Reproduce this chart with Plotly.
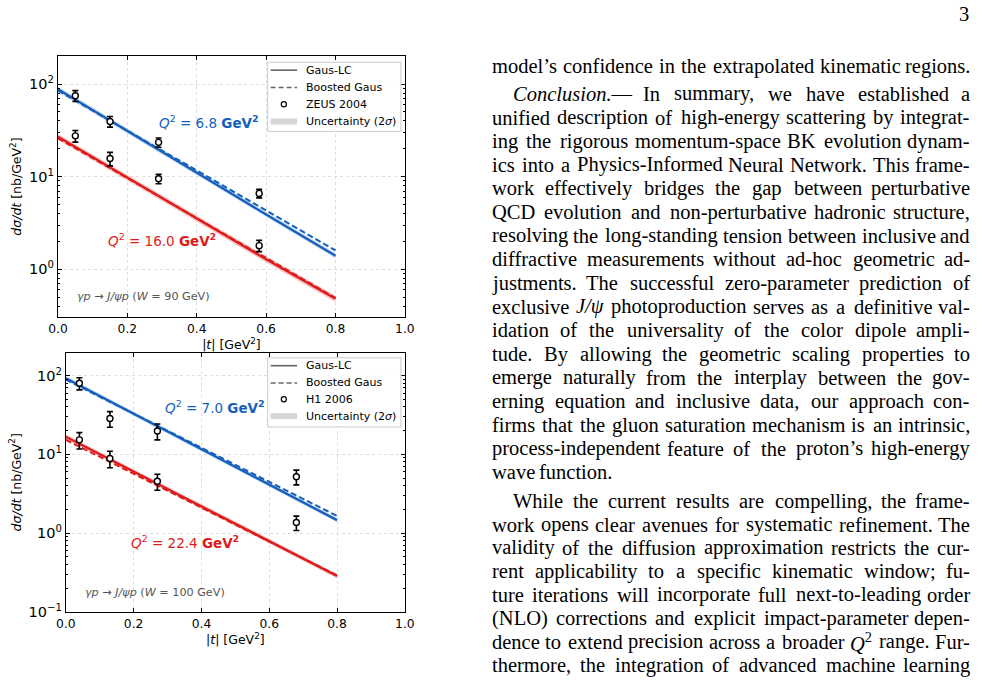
import re
import plotly.graph_objects as go

W, H = 988, 686

# ---------------- data ----------------
t_curve = [0.0, 0.2, 0.4, 0.6, 0.8]

# Top panel: W = 90 GeV, ZEUS 2004
top_blue_lc = [88, 31.0, 11.0, 3.9, 1.40]
top_blue_bg = [85, 31.5, 11.7, 4.3, 1.60]
top_blue_lo = [82, 29.0, 10.3, 3.65, 1.31]
top_blue_hi = [94, 33.0, 11.7, 4.15, 1.50]
top_red_lc = [27, 9.8, 3.5, 1.28, 0.48]
top_red_bg = [26, 9.6, 3.55, 1.32, 0.49]
top_red_lo = [25, 9.1, 3.25, 1.18, 0.44]
top_red_hi = [29, 10.5, 3.75, 1.38, 0.52]

zeus_t = [0.05, 0.15, 0.29, 0.58]
zeus_blue = [75, 39.5, 23.5, 6.6]
zeus_blue_err = [10, 5.2, 2.7, 0.7]
zeus_red = [27.6, 15.7, 9.5, 1.8]
zeus_red_err = [4.0, 2.6, 1.1, 0.25]

# Bottom panel: W = 100 GeV, H1 2006
bot_blue_lc = [93, 33.0, 11.7, 4.14, 1.46]
bot_blue_bg = [89, 32.8, 12.1, 4.45, 1.65]
bot_blue_lo = [87, 30.9, 10.95, 3.88, 1.37]
bot_blue_hi = [99, 35.2, 12.5, 4.42, 1.56]
bot_red_lc = [16.7, 6.05, 2.2, 0.79, 0.285]
bot_red_bg = [15.3, 5.7, 2.12, 0.78, 0.29]
bot_red_lo = [15.6, 5.65, 2.05, 0.74, 0.265]
bot_red_hi = [17.9, 6.5, 2.36, 0.85, 0.305]

h1_t = [0.04, 0.13, 0.27, 0.68]
h1_blue = [80, 28.5, 19.8, 5.2]
h1_blue_err = [14, 6.4, 4.5, 1.1]
h1_red = [15.3, 8.85, 4.55, 1.36]
h1_red_err = [3.6, 2.1, 1.05, 0.28]

x_ticks = [0.0, 0.2, 0.4, 0.6, 0.8, 1.0]
top_y_tickvals = [1, 10, 100]
top_y_ticktext = ["10<sup>0</sup>", "10<sup>1</sup>", "10<sup>2</sup>"]
bot_y_tickvals = [0.1, 1, 10, 100]
bot_y_ticktext = ["10<sup>−1</sup>", "10<sup>0</sup>", "10<sup>1</sup>", "10<sup>2</sup>"]

legend_labels_top = ["Gaus-LC", "Boosted Gaus", "ZEUS 2004", "Uncertainty (2<i>σ</i>)"]
legend_labels_bot = ["Gaus-LC", "Boosted Gaus", "H1 2006", "Uncertainty (2<i>σ</i>)"]

page_number = "3"
text_lines = [
    ("model’s confidence in the extrapolated kinematic regions.", 0, True),
    ("<i>Conclusion.</i>— In summary, we have established a", 1, True),
    ("unified description of high-energy scattering by integrat-", 0, True),
    ("ing the rigorous momentum-space BK evolution dynam-", 0, True),
    ("ics into a Physics-Informed Neural Network. This frame-", 0, True),
    ("work effectively bridges the gap between perturbative", 0, True),
    ("QCD evolution and non-perturbative hadronic structure,", 0, True),
    ("resolving the long-standing tension between inclusive and", 0, True),
    ("diffractive measurements without ad-hoc geometric ad-", 0, True),
    ("justments. The successful zero-parameter prediction of", 0, True),
    ("exclusive <i>J/ψ</i> photoproduction serves as a definitive val-", 0, True),
    ("idation of the universality of the color dipole ampli-", 0, True),
    ("tude. By allowing the geometric scaling properties to", 0, True),
    ("emerge naturally from the interplay between the gov-", 0, True),
    ("erning equation and inclusive data, our approach con-", 0, True),
    ("firms that the gluon saturation mechanism is an intrinsic,", 0, True),
    ("process-independent feature of the proton’s high-energy", 0, True),
    ("wave function.", 0, False),
    ("While the current results are compelling, the frame-", 1, True),
    ("work opens clear avenues for systematic refinement. The", 0, True),
    ("validity of the diffusion approximation restricts the cur-", 0, True),
    ("rent applicability to a specific kinematic window; fu-", 0, True),
    ("ture iterations will incorporate full next-to-leading order", 0, True),
    ("(NLO) corrections and explicit impact-parameter depen-", 0, True),
    ("dence to extend precision across a broader <i>Q</i><sup>2</sup> range. Fur-", 0, True),
    ("thermore, the integration of advanced machine learning", 0, True),
]
text_y = [67] + [95 + 23.93 * i for i in range(17)] + [507 + 23.7 * i for i in range(8)]

# ---------------- styles ----------------
BLUE = "#1560bd"
RED = "#dd1c1c"
BLUE_BAND = "rgba(21,96,189,0.22)"
RED_BAND = "rgba(221,28,28,0.24)"

fig = go.Figure()

panels = [
    dict(xa="x", ya="y",
         blue=(top_blue_lc, top_blue_bg, top_blue_lo, top_blue_hi),
         red=(top_red_lc, top_red_bg, top_red_lo, top_red_hi),
         dt=zeus_t, db=(zeus_blue, zeus_blue_err), dr=(zeus_red, zeus_red_err)),
    dict(xa="x2", ya="y2",
         blue=(bot_blue_lc, bot_blue_bg, bot_blue_lo, bot_blue_hi),
         red=(bot_red_lc, bot_red_bg, bot_red_lo, bot_red_hi),
         dt=h1_t, db=(h1_blue, h1_blue_err), dr=(h1_red, h1_red_err)),
]

for p in panels:
    xa, ya = p["xa"], p["ya"]
    for (lc, bg, lo, hi), col, band in [(p["blue"], BLUE, BLUE_BAND), (p["red"], RED, RED_BAND)]:
        fig.add_trace(go.Scatter(x=t_curve, y=lo, mode="lines", line=dict(width=0),
                                 showlegend=False, hoverinfo="skip", xaxis=xa, yaxis=ya))
        fig.add_trace(go.Scatter(x=t_curve, y=hi, mode="lines", line=dict(width=0),
                                 fill="tonexty", fillcolor=band,
                                 showlegend=False, hoverinfo="skip", xaxis=xa, yaxis=ya))
        fig.add_trace(go.Scatter(x=t_curve, y=lc, mode="lines", line=dict(color=col, width=2.3),
                                 showlegend=False, xaxis=xa, yaxis=ya))
        fig.add_trace(go.Scatter(x=t_curve, y=bg, mode="lines",
                                 line=dict(color=col, width=2.0, dash="6px,3px"),
                                 showlegend=False, xaxis=xa, yaxis=ya))
    for vals, errs in [p["db"], p["dr"]]:
        fig.add_trace(go.Scatter(x=p["dt"], y=vals, mode="markers",
                                 error_y=dict(type="data", array=errs, color="black",
                                              thickness=1.6, width=3),
                                 marker=dict(symbol="circle", size=6, color="white",
                                             line=dict(color="black", width=1.4)),
                                 showlegend=False, xaxis=xa, yaxis=ya))

# ---------------- axes ----------------
def px_x(v):
    return v / W

def px_y(v):
    return 1 - v / H

axis_common = dict(showline=True, mirror="ticks", linecolor="black", linewidth=1.2,
                   ticks="inside", ticklen=4, tickcolor="black", tickwidth=1,
                   showgrid=True, gridcolor="#dedede", griddash="dot", gridwidth=0.8,
                   zeroline=False)

xcommon = dict(axis_common, range=[0, 1.0], tickvals=x_ticks, tickformat=".1f",
               tickfont=dict(family="DejaVu Sans", size=12.3, color="black"),
               title=dict(text="|<i>t</i>| [GeV<sup>2</sup>]",
                          font=dict(family="DejaVu Sans", size=12.5, color="black"),
                          standoff=4))
ycommon = dict(axis_common, type="log",
               tickfont=dict(family="DejaVu Sans", size=14.5, color="black"),
               minor=dict(ticks="inside", ticklen=2, tickcolor="black", showgrid=False,
                          dtick="D1"),
               title=dict(text="<i>dσ/dt</i> [nb/GeV<sup>2</sup>]",
                          font=dict(family="DejaVu Sans", size=12.5, color="black"),
                          standoff=4))

fig.update_layout(
    xaxis=dict(xcommon, domain=[px_x(49), px_x(403)], anchor="y"),
    yaxis=dict(ycommon, domain=[px_y(320.5), px_y(57)], anchor="x", range=[-0.513, 2.30],
               tickvals=top_y_tickvals, ticktext=top_y_ticktext),
    xaxis2=dict(xcommon, domain=[px_x(57), px_x(403)], anchor="y2"),
    yaxis2=dict(ycommon, domain=[px_y(619), px_y(357)], anchor="x2", range=[-1.0, 2.29],
                tickvals=bot_y_tickvals, ticktext=bot_y_ticktext),
    showlegend=False,
)

# ---------------- panel annotations ----------------
ann = []
shapes = []

def add_label(text, x, y, color, size, xanchor="center", family="DejaVu Sans"):
    ann.append(dict(text=text, x=px_x(x), y=px_y(y), xref="paper", yref="paper",
                    xanchor=xanchor, yanchor="middle", showarrow=False,
                    font=dict(family=family, size=size, color=color)))

add_label("<i>Q</i><sup>2</sup> = 6.8 <b>GeV<sup>2</sup></b>", 203, 123, BLUE, 13.5)
add_label("<i>Q</i><sup>2</sup> = 16.0 <b>GeV<sup>2</sup></b>", 155.5, 243, RED, 13.5)
add_label("<i>γp</i> → <i>J/ψp</i> (<i>W</i> = 90 GeV)", 66, 300, "#555555", 11.2, "left")
add_label("<i>Q</i><sup>2</sup> = 7.0 <b>GeV<sup>2</sup></b>", 209, 412, BLUE, 13.5)
add_label("<i>Q</i><sup>2</sup> = 22.4 <b>GeV<sup>2</sup></b>", 179, 548, RED, 13.5)
add_label("<i>γp</i> → <i>J/ψp</i> (<i>W</i> = 100 GeV)", 74, 599, "#555555", 11.2, "left")

# ---------------- manual legends (matplotlib-like) ----------------
def draw_legend(labels, left, top, right, bottom, rows):
    shapes.append(dict(type="rect", xref="paper", yref="paper",
                       x0=px_x(left), x1=px_x(right), y0=px_y(bottom), y1=px_y(top),
                       line=dict(color="#cccccc", width=1), fillcolor="rgba(255,255,255,0.85)",
                       layer="above"))
    hx0, hx1 = left + 3, left + 30
    shapes.append(dict(type="line", xref="paper", yref="paper", x0=px_x(hx0), x1=px_x(hx1),
                       y0=px_y(rows[0]), y1=px_y(rows[0]),
                       line=dict(color="#666666", width=1.6), layer="above"))
    shapes.append(dict(type="line", xref="paper", yref="paper", x0=px_x(hx0), x1=px_x(hx1),
                       y0=px_y(rows[1]), y1=px_y(rows[1]),
                       line=dict(color="#666666", width=1.6, dash="5px,3px"), layer="above"))
    cx, r = (hx0 + hx1) / 2, 2.6
    shapes.append(dict(type="circle", xref="paper", yref="paper",
                       x0=px_x(cx - r), x1=px_x(cx + r), y0=px_y(rows[2] + r), y1=px_y(rows[2] - r),
                       line=dict(color="black", width=1.2), fillcolor="white", layer="above"))
    shapes.append(dict(type="line", xref="paper", yref="paper", x0=px_x(hx0), x1=px_x(hx1),
                       y0=px_y(rows[3]), y1=px_y(rows[3]),
                       line=dict(color="#d6d6d6", width=6), layer="above"))
    for lab, ry in zip(labels, rows):
        ann.append(dict(text=lab, x=px_x(left + 37), y=px_y(ry), xref="paper", yref="paper",
                        xanchor="left", yanchor="middle", showarrow=False,
                        font=dict(family="DejaVu Sans", size=11, color="black")))

draw_legend(legend_labels_top, 263, 63, 399, 133, [71, 88.5, 105.5, 123])
draw_legend(legend_labels_bot, 263, 362, 399, 432, [370, 387.5, 404, 421])

# ---------------- text column (justified, Liberation Serif ~ Times metrics) ----------------
TIMES = {' ': 250, '!': 333, '"': 408, '#': 500, '$': 500, '%': 833, '&': 778, "'": 180,
         '(': 333, ')': 333, '*': 500, '+': 564, ',': 250, '-': 333, '.': 250, '/': 278,
         ':': 278, ';': 278, '<': 564, '=': 564, '>': 564, '?': 444, '@': 921,
         'A': 722, 'B': 667, 'C': 667, 'D': 722, 'E': 611, 'F': 556, 'G': 722, 'H': 722,
         'I': 333, 'J': 389, 'K': 722, 'L': 611, 'M': 889, 'N': 722, 'O': 722, 'P': 556,
         'Q': 722, 'R': 667, 'S': 556, 'T': 611, 'U': 722, 'V': 722, 'W': 944, 'X': 722,
         'Y': 722, 'Z': 611, 'a': 444, 'b': 500, 'c': 444, 'd': 500, 'e': 444, 'f': 333,
         'g': 500, 'h': 500, 'i': 278, 'j': 278, 'k': 500, 'l': 278, 'm': 778, 'n': 500,
         'o': 500, 'p': 500, 'q': 500, 'r': 333, 's': 389, 't': 278, 'u': 500, 'v': 500,
         'w': 722, 'x': 500, 'y': 500, 'z': 444, '—': 1000, '’': 333, 'ψ': 686}
for d in "0123456789":
    TIMES[d] = 500

FS = 20.5
COL_L, COL_R, INDENT = 491.5, 980.0, 21.5

def word_width(word):
    w, scale = 0.0, 1.0
    for tok in re.split(r"(<[^>]+>)", word):
        if tok.startswith("<"):
            if tok == "<sup>":
                scale = 0.7
            elif tok == "</sup>":
                scale = 1.0
            continue
        for ch in tok:
            w += TIMES.get(ch, 500) * scale
    return w / 1000.0 * FS

def add_word(text, x, y, anchor):
    ann.append(dict(text=text, x=px_x(x), y=px_y(y), xref="paper", yref="paper",
                    xanchor=anchor, yanchor="middle", showarrow=False,
                    borderpad=0, borderwidth=0,
                    font=dict(family="Liberation Serif", size=FS, color="black")))

for (line, indent, justify), y in zip(text_lines, text_y):
    words = line.split(" ")
    widths = [word_width(w) for w in words]
    x0 = COL_L + (INDENT if indent else 0)
    if justify and len(words) > 1:
        gap = (COL_R - x0 - sum(widths)) / (len(words) - 1)
    else:
        gap = TIMES[' '] / 1000.0 * FS
    x = x0
    for i, (wd, ww) in enumerate(zip(words, widths)):
        if justify and i == len(words) - 1 and len(words) > 1:
            add_word(wd, COL_R, y, "right")
        else:
            add_word(wd, x, y, "left")
        x += ww + gap

ann.append(dict(text=page_number, x=px_x(981), y=px_y(14), xref="paper", yref="paper",
                xanchor="right", yanchor="middle", showarrow=False,
                font=dict(family="Liberation Serif", size=FS, color="black")))

fig.update_layout(
    annotations=ann, shapes=shapes,
    width=W, height=H, margin=dict(l=0, r=0, t=0, b=0),
    paper_bgcolor="white", plot_bgcolor="white",
    font=dict(family="DejaVu Sans", color="black"),
)

fig.write_html("out.html")
